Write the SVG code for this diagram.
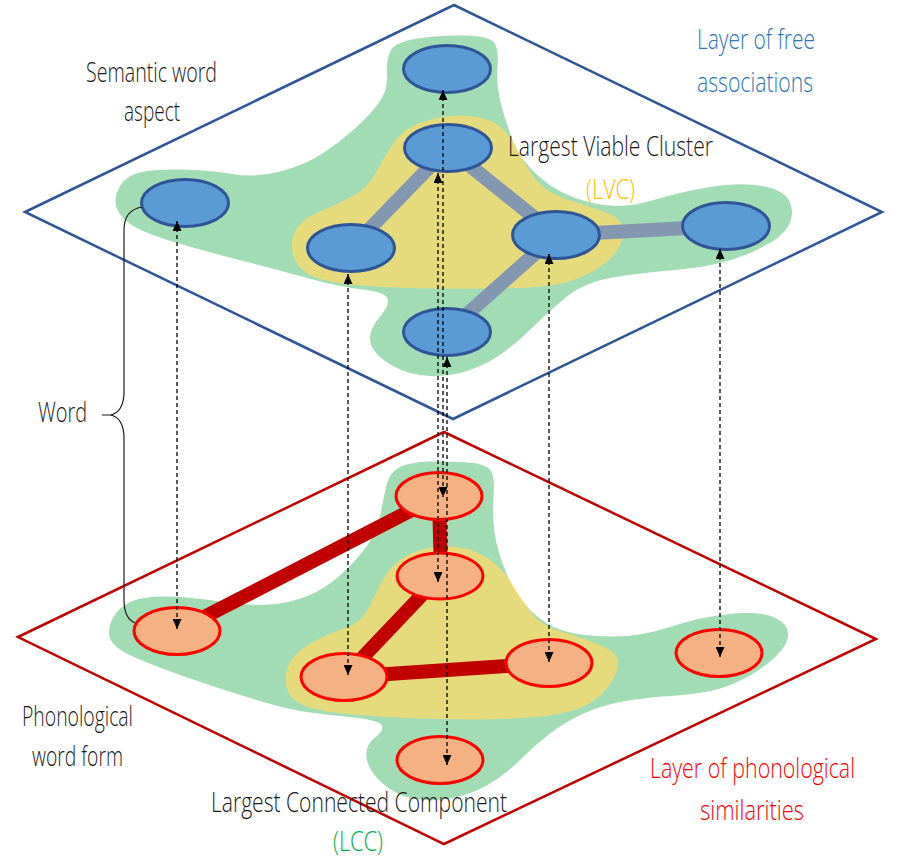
<svg xmlns="http://www.w3.org/2000/svg" width="914" height="859" viewBox="0 0 914 859">
<defs>
<marker id="ah" viewBox="0 0 10 9" refX="10" refY="4.5" markerUnits="userSpaceOnUse" markerWidth="10" markerHeight="9" orient="auto-start-reverse">
<path d="M0,0 L10,4.5 L0,9 Z" fill="#000"/>
</marker>
<style>
.lbl{font-family:"Open Sans","Liberation Sans",sans-serif;font-weight:300;font-size:28px;fill:#1a1a1a}
.green{fill:#A2DCB4}
.yellow{fill:#FFD966;fill-opacity:0.72}
.sem{fill:#5B9BD5;stroke:#2F5597;stroke-width:3}
.pho{fill:#F4B183;stroke:#FF0000;stroke-width:3}
.sedge{stroke:#8497B0;stroke-width:14;fill:none}
.pedge{stroke:#C00000;stroke-width:14;fill:none}
.dash{stroke:#000;stroke-width:1.3;stroke-dasharray:4 3;fill:none;marker-start:url(#ah);marker-end:url(#ah)}
</style>
</defs>
<rect width="914" height="859" fill="#fff"/>
<g id="layer-top">
<polygon points="25,212 454,5 882,212 453,419" fill="none" stroke="#2F5597" stroke-width="2.5"/>
</g>
<g id="layer-bottom">
<polygon points="18,637 444,432 876,639 444,844" fill="none" stroke="#C00000" stroke-width="2.5"/>
</g>
<g id="regions">
<path class="green" d="M390.5,51 Q395,42 417.5,38.5 Q440,35 465,35.5 Q490,36 494.5,43 Q499,50 497.5,67.5 Q496,85 500.5,102.5 Q505,120 512.5,140 Q520,160 540,177.5 Q560,195 590,202.5 Q620,210 650,201 Q680,192 710,187 Q740,182 762.5,186 Q785,190 790,202.5 Q795,215 787.5,227.5 Q780,240 750,253 Q720,266 680,269.5 Q640,273 612.5,277.5 Q585,282 567.5,296 Q550,310 532.5,327.5 Q515,345 497.5,356.5 Q480,368 460,373 Q440,378 420,375 Q400,372 385,361 Q370,350 370,339 Q370,328 380,316.5 Q390,305 387.5,298.5 Q385,292 362.5,289.5 Q340,287 303.5,277 Q267,267 233.5,258.5 Q200,250 167.5,240 Q135,230 123.5,218.5 Q112,207 117,192.5 Q122,178 136,173.5 Q150,169 180,169.5 Q210,170 232.5,174 Q255,178 280,171.5 Q305,165 322.5,153.5 Q340,142 355,128.5 Q370,115 379,102.5 Q388,90 387,75 Q386,60 390.5,51 Z"/>
<path class="yellow" d="M427.5,120.5 Q450,114 470,116 Q490,118 500,126.5 Q510,135 517.5,150 Q525,165 535,178.5 Q545,192 567.5,199.5 Q590,207 602.5,211 Q615,215 620.5,222.5 Q626,230 622,241 Q618,252 606.5,262 Q595,272 575,279.5 Q555,287 517.5,288 Q480,289 440,288.5 Q400,288 367.5,286 Q335,284 317.5,278 Q300,272 294.5,258.5 Q289,245 294.5,232.5 Q300,220 320,211.5 Q340,203 354,195.5 Q368,188 376.5,171.5 Q385,155 395,141 Q405,127 427.5,120.5 Z"/>
<path class="green" d="M400,467 Q410,462 430,461.5 Q450,461 468.5,462.5 Q487,464 491,471 Q495,478 493.5,496.5 Q492,515 494.5,532.5 Q497,550 506,572.5 Q515,595 530,610 Q545,625 562.5,630.5 Q580,636 610,636.5 Q640,637 670,627 Q700,617 728.5,614 Q757,611 772,616.5 Q787,622 788,633.5 Q789,645 773,659 Q757,673 735,683 Q713,693 676.5,695.5 Q640,698 620,702 Q600,706 582.5,714 Q565,722 550,733.5 Q535,745 520,760 Q505,775 487.5,785 Q470,795 450,798.5 Q430,802 412.5,798.5 Q395,795 381.5,782.5 Q368,770 366.5,757.5 Q365,745 375,737.5 Q385,730 381.5,725 Q378,720 354,717.5 Q330,715 310,712.5 Q290,710 256.5,700 Q223,690 190,678.5 Q157,667 135,657.5 Q113,648 110,638 Q107,628 113.5,617 Q120,606 132.5,601 Q145,596 167.5,596.5 Q190,597 220,601.5 Q250,606 270,604.5 Q290,603 307.5,596 Q325,589 341,574.5 Q357,560 367.5,545 Q378,530 381,512.5 Q384,495 387,483.5 Q390,472 400,467 Z"/>
<path class="yellow" d="M467.5,549 Q453,545 433,547.5 Q413,550 400,560 Q387,570 380,585 Q373,600 366.5,611.5 Q360,623 345,628 Q330,633 311.5,643 Q293,653 288,666.5 Q283,680 288,691.5 Q293,703 311.5,708 Q330,713 365,715.5 Q400,718 440,719 Q480,720 513.5,718.5 Q547,717 567,712 Q587,707 598.5,697 Q610,687 615,675 Q620,663 616.5,656.5 Q613,650 596.5,643.5 Q580,637 560,631 Q540,625 530,611 Q520,597 512.5,584.5 Q505,572 493.5,562.5 Q482,553 467.5,549 Z"/>
</g>
<g id="edges">
<line class="sedge" x1="448" y1="148" x2="351" y2="248"/>
<line class="sedge" x1="448" y1="148" x2="556" y2="235"/>
<line class="sedge" x1="556" y1="235" x2="447" y2="332"/>
<line class="sedge" x1="556" y1="235" x2="726" y2="226"/>
<line class="pedge" x1="177" y1="631" x2="439" y2="496"/>
<line class="pedge" x1="439" y1="496" x2="441" y2="576"/>
<line class="pedge" x1="440" y1="576" x2="344" y2="677"/>
<line class="pedge" x1="344" y1="677" x2="549" y2="663"/>
</g>
<g id="node-s1"><ellipse class="sem" cx="447" cy="69" rx="43.5" ry="23.5"/></g>
<g id="node-s2"><ellipse class="sem" cx="448" cy="148" rx="43.5" ry="23.5"/></g>
<g id="node-s3"><ellipse class="sem" cx="351" cy="248" rx="43.5" ry="23.5"/></g>
<g id="node-s4"><ellipse class="sem" cx="556" cy="235" rx="43.5" ry="23.5"/></g>
<g id="node-s5"><ellipse class="sem" cx="447" cy="332" rx="43.5" ry="23.5"/></g>
<g id="node-s6"><ellipse class="sem" cx="185" cy="203" rx="43.5" ry="23.5"/></g>
<g id="node-s7"><ellipse class="sem" cx="726" cy="226" rx="43.5" ry="23.5"/></g>
<g id="node-p1"><ellipse class="pho" cx="439" cy="496" rx="43" ry="23.5"/></g>
<g id="node-p2"><ellipse class="pho" cx="440" cy="576" rx="43" ry="23"/></g>
<g id="node-p3"><ellipse class="pho" cx="344" cy="677" rx="43" ry="23.5"/></g>
<g id="node-p4"><ellipse class="pho" cx="549" cy="663" rx="43" ry="23.5"/></g>
<g id="node-p5"><ellipse class="pho" cx="440" cy="760" rx="43" ry="23.5"/></g>
<g id="node-p6"><ellipse class="pho" cx="177" cy="631" rx="43" ry="23.5"/></g>
<g id="node-p7"><ellipse class="pho" cx="719" cy="653" rx="43" ry="23.5"/></g>
<g id="connectors">
<line class="dash" x1="177" y1="221" x2="177" y2="629"/>
<line class="dash" x1="348" y1="274" x2="348" y2="675"/>
<line class="dash" x1="443" y1="90" x2="443" y2="497"/>
<line class="dash" x1="438" y1="173" x2="438" y2="582"/>
<line class="dash" x1="447" y1="357" x2="447" y2="765"/>
<line class="dash" x1="549" y1="254" x2="549" y2="662"/>
<line class="dash" x1="720" y1="249" x2="720" y2="657"/>
</g>
<g id="word-brace">
<path d="M142,207 C130,209 124,216 124,230 L124,392 C124,405 119,414 110,415 L102,415 M110,415 C119,416 124,425 124,438 L124,600 C124,612 128,620 135,623" fill="none" stroke="#1a1a1a" stroke-width="1.2"/>
</g>
<g id="labels">
<text class="lbl" x="86" y="82" textLength="131" lengthAdjust="spacingAndGlyphs">Semantic word</text>
<text class="lbl" x="124" y="121" textLength="56" lengthAdjust="spacingAndGlyphs">aspect</text>
<text class="lbl" x="697" y="49" textLength="118" lengthAdjust="spacingAndGlyphs" style="fill:#2E75B6">Layer of free</text>
<text class="lbl" x="697" y="92" textLength="116" lengthAdjust="spacingAndGlyphs" style="fill:#2E75B6">associations</text>
<text class="lbl" x="508" y="156" textLength="205" lengthAdjust="spacingAndGlyphs">Largest Viable Cluster</text>
<text class="lbl" x="586" y="199" textLength="49" lengthAdjust="spacingAndGlyphs" style="fill:#FFC000">(LVC)</text>
<text class="lbl" x="38" y="422" textLength="49" lengthAdjust="spacingAndGlyphs">Word</text>
<text class="lbl" x="22" y="726" textLength="111" lengthAdjust="spacingAndGlyphs">Phonological</text>
<text class="lbl" x="32" y="766" textLength="91" lengthAdjust="spacingAndGlyphs">word form</text>
<text class="lbl" x="211" y="812" textLength="296" lengthAdjust="spacingAndGlyphs">Largest Connected Component</text>
<text class="lbl" x="333" y="851" textLength="50" lengthAdjust="spacingAndGlyphs" style="fill:#00B050">(LCC)</text>
<text class="lbl" x="650" y="778" textLength="205" lengthAdjust="spacingAndGlyphs" style="fill:#FF0000">Layer of phonological</text>
<text class="lbl" x="700" y="820" textLength="104" lengthAdjust="spacingAndGlyphs" style="fill:#FF0000">similarities</text>
</g>
</svg>
